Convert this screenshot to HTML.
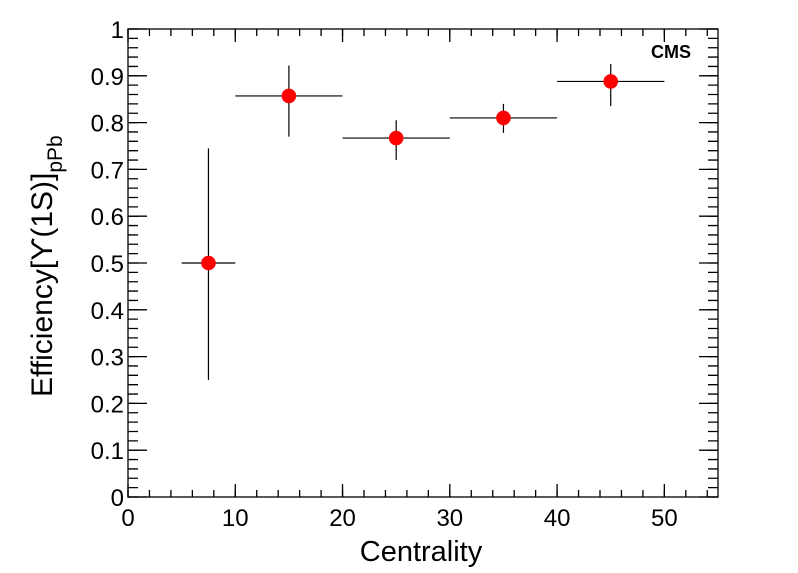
<!DOCTYPE html>
<html><head><meta charset="utf-8"><style>
html,body{margin:0;padding:0;background:#fff;}
svg{display:block;font-family:"Liberation Sans",Arial,sans-serif;}
</style></head><body>
<svg width="798" height="573" viewBox="0 0 798 573" xmlns="http://www.w3.org/2000/svg">
<rect width="798" height="573" fill="#fff"/>
<rect x="128" y="29" width="590" height="468" fill="none" stroke="#000" stroke-width="1.3"/>
<g stroke="#000" fill="none">
<line x1="133" y1="497.65" x2="133" y2="28" stroke-width="10" stroke-dasharray="1.3 8.06"/>
<line x1="137.5" y1="497.65" x2="137.5" y2="28" stroke-width="19" stroke-dasharray="1.3 45.5"/>
<line x1="713" y1="497.65" x2="713" y2="28" stroke-width="10" stroke-dasharray="1.3 8.06"/>
<line x1="708.5" y1="497.65" x2="708.5" y2="28" stroke-width="19" stroke-dasharray="1.3 45.5"/>
<line x1="127.35" y1="493.5" x2="719" y2="493.5" stroke-width="7" stroke-dasharray="1.3 20.1545"/>
<line x1="127.35" y1="490.5" x2="719" y2="490.5" stroke-width="13" stroke-dasharray="1.3 105.97"/>
<line x1="127.35" y1="32.5" x2="719" y2="32.5" stroke-width="7" stroke-dasharray="1.3 20.1545"/>
<line x1="127.35" y1="35.5" x2="719" y2="35.5" stroke-width="13" stroke-dasharray="1.3 105.97"/>
</g>
<g font-size="24" fill="#000" text-anchor="end">
<text x="124" y="506">0</text>
<text x="124" y="459.2">0.1</text>
<text x="124" y="412.4">0.2</text>
<text x="124" y="365.6">0.3</text>
<text x="124" y="318.8">0.4</text>
<text x="124" y="272">0.5</text>
<text x="124" y="225.2">0.6</text>
<text x="124" y="178.4">0.7</text>
<text x="124" y="131.6">0.8</text>
<text x="124" y="84.8">0.9</text>
<text x="124" y="38">1</text>
</g>
<g font-size="24" fill="#000" text-anchor="middle">
<text x="128" y="526">0</text>
<text x="235.27" y="526">10</text>
<text x="342.55" y="526">20</text>
<text x="449.82" y="526">30</text>
<text x="557.09" y="526">40</text>
<text x="664.36" y="526">50</text>
</g>
<g stroke="#000" stroke-width="1.2">
<line x1="181.64" y1="263" x2="235.27" y2="263"/>
<line x1="208.45" y1="380" x2="208.45" y2="148.34"/>
<line x1="235.27" y1="95.92" x2="342.55" y2="95.92"/>
<line x1="288.9" y1="136.64" x2="288.9" y2="65.5"/>
<line x1="342.55" y1="138.04" x2="449.82" y2="138.04"/>
<line x1="396.18" y1="160.04" x2="396.18" y2="120.26"/>
<line x1="449.82" y1="117.92" x2="557.09" y2="117.92"/>
<line x1="503.45" y1="132.9" x2="503.45" y2="103.88"/>
<line x1="557.09" y1="81.42" x2="664.36" y2="81.42"/>
<line x1="610.73" y1="106.2" x2="610.73" y2="64.1"/>
</g>
<g fill="#ff0000">
<circle cx="208.45" cy="263" r="7.3"/>
<circle cx="288.9" cy="95.92" r="7.3"/>
<circle cx="396.18" cy="138.04" r="7.3"/>
<circle cx="503.45" cy="117.92" r="7.3"/>
<circle cx="610.73" cy="81.42" r="7.3"/>
</g>
<text x="421" y="561" font-size="29" text-anchor="middle">Centrality</text>
<text transform="translate(52,397) rotate(-90)" font-size="30">Efficiency[ϒ(1S)]<tspan font-size="21" dy="10">pPb</tspan></text>
<text x="691" y="58" font-size="18" font-weight="bold" text-anchor="end">CMS</text>
</svg>
</body></html>
